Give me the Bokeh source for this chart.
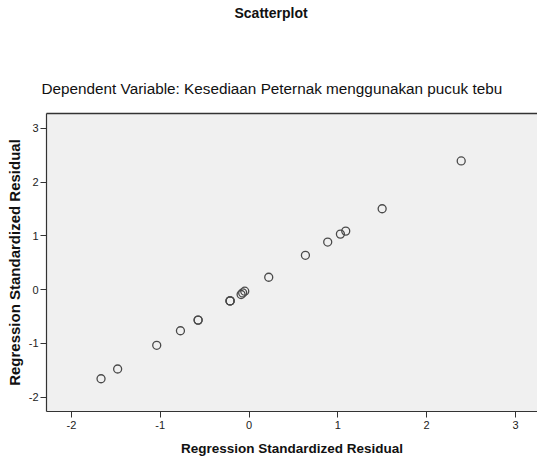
from bokeh.plotting import figure
from bokeh.models import Range1d, LinearAxis, FixedTicker, Title
from bokeh.embed import file_html
from bokeh.resources import INLINE

# Data (x = fitted / standardized, y = standardized residual)
x_vals = [-1.666, -1.479, -1.039, -0.772, -0.573, -0.573, -0.213, -0.213, -0.213,
          -0.089, -0.071, -0.048, 0.222, 0.635, 0.886, 1.029, 1.089, 1.499, 2.389]
y_vals = [-1.659, -1.478, -1.037, -0.766, -0.568, -0.568, -0.210, -0.210, -0.210,
          -0.091, -0.061, -0.030, 0.230, 0.638, 0.885, 1.033, 1.089, 1.505, 2.395]
x_ticks = [-2, -1, 0, 1, 2, 3]
x_tick_labels = ["-2", "-1", "0", "1", "2", "3"]
y_ticks = [-2, -1, 0, 1, 2, 3]
y_tick_labels = ["-2", "-1", "0", "1", "2", "3"]

title_text = "Scatterplot"
subtitle_text = "Dependent Variable: Kesediaan Peternak menggunakan pucuk tebu"
axis_text = "Regression Standardized Residual"

p = figure(frame_width=491, frame_height=298, output_backend="svg", toolbar_location=None,
           x_range=Range1d(-2.28, 3.248), y_range=Range1d(-2.269, 3.278),
           min_border_top=0, min_border_bottom=0, min_border_left=39,
           min_border_right=0, x_axis_location=None, y_axis_location=None)
p.background_fill_color = "#f0f0f0"
p.border_fill_color = "white"
p.outline_line_color = None
p.grid.visible = False

def style_axis(ax):
    ax.axis_line_color = "#333333"
    ax.axis_line_width = 1.2
    ax.major_tick_line_color = "#333333"
    ax.major_tick_out = 6
    ax.major_tick_in = 0
    ax.minor_tick_out = 0
    ax.minor_tick_in = 0
    ax.major_label_text_font = "Liberation Sans"
    ax.major_label_text_font_size = "11px"
    ax.major_label_text_color = "#222222"
    ax.axis_label_text_font = "Liberation Sans"
    ax.axis_label_text_font_style = "bold"
    ax.axis_label_text_color = "#111111"

# closest to the frame first: top border line
top = LinearAxis(ticker=FixedTicker(ticks=[]))
top.axis_line_color = "#333333"
top.axis_line_width = 1.5
top.major_tick_out = 0
top.minor_tick_out = 0
top.major_label_text_font_size = "0px"
p.add_layout(top, "above")

sub = Title(text=subtitle_text, text_font="Liberation Sans", text_font_style="normal",
            text_font_size="15.3px", text_color="#111111", align="left", offset=-5,
            standoff=34)
p.add_layout(sub, "above")

spacer = Title(text=" ", text_font_size="10px", standoff=24)
p.add_layout(spacer, "above")

p.title.text = title_text
p.title.text_font = "Liberation Sans"
p.title.text_font_style = "bold"
p.title.text_font_size = "14px"
p.title.text_color = "#111111"
p.title.align = "left"
p.title.offset = 188
p.title.standoff = 5

xa = LinearAxis(ticker=FixedTicker(ticks=x_ticks), axis_label=axis_text)
style_axis(xa)
xa.axis_label_text_font_size = "13.5px"
xa.major_label_overrides = dict(zip(x_ticks, x_tick_labels))
xa.major_label_standoff = 3
xa.axis_label_standoff = 9
p.add_layout(xa, "below")

ya = LinearAxis(ticker=FixedTicker(ticks=y_ticks))
style_axis(ya)
ya.major_label_overrides = dict(zip(y_ticks, y_tick_labels))
ya.major_label_standoff = 2
p.add_layout(ya, "left")

ylab = Title(text=axis_text, text_font="Liberation Sans", text_font_style="bold",
             text_font_size="15px", text_color="#111111", align="center", standoff=6)
p.add_layout(ylab, "left")

p.scatter(x_vals, y_vals, marker="circle", size=8, fill_color=None,
          line_color="#4a4a4a", line_width=1.3)

open("out.html", "w").write(file_html(p, INLINE))
